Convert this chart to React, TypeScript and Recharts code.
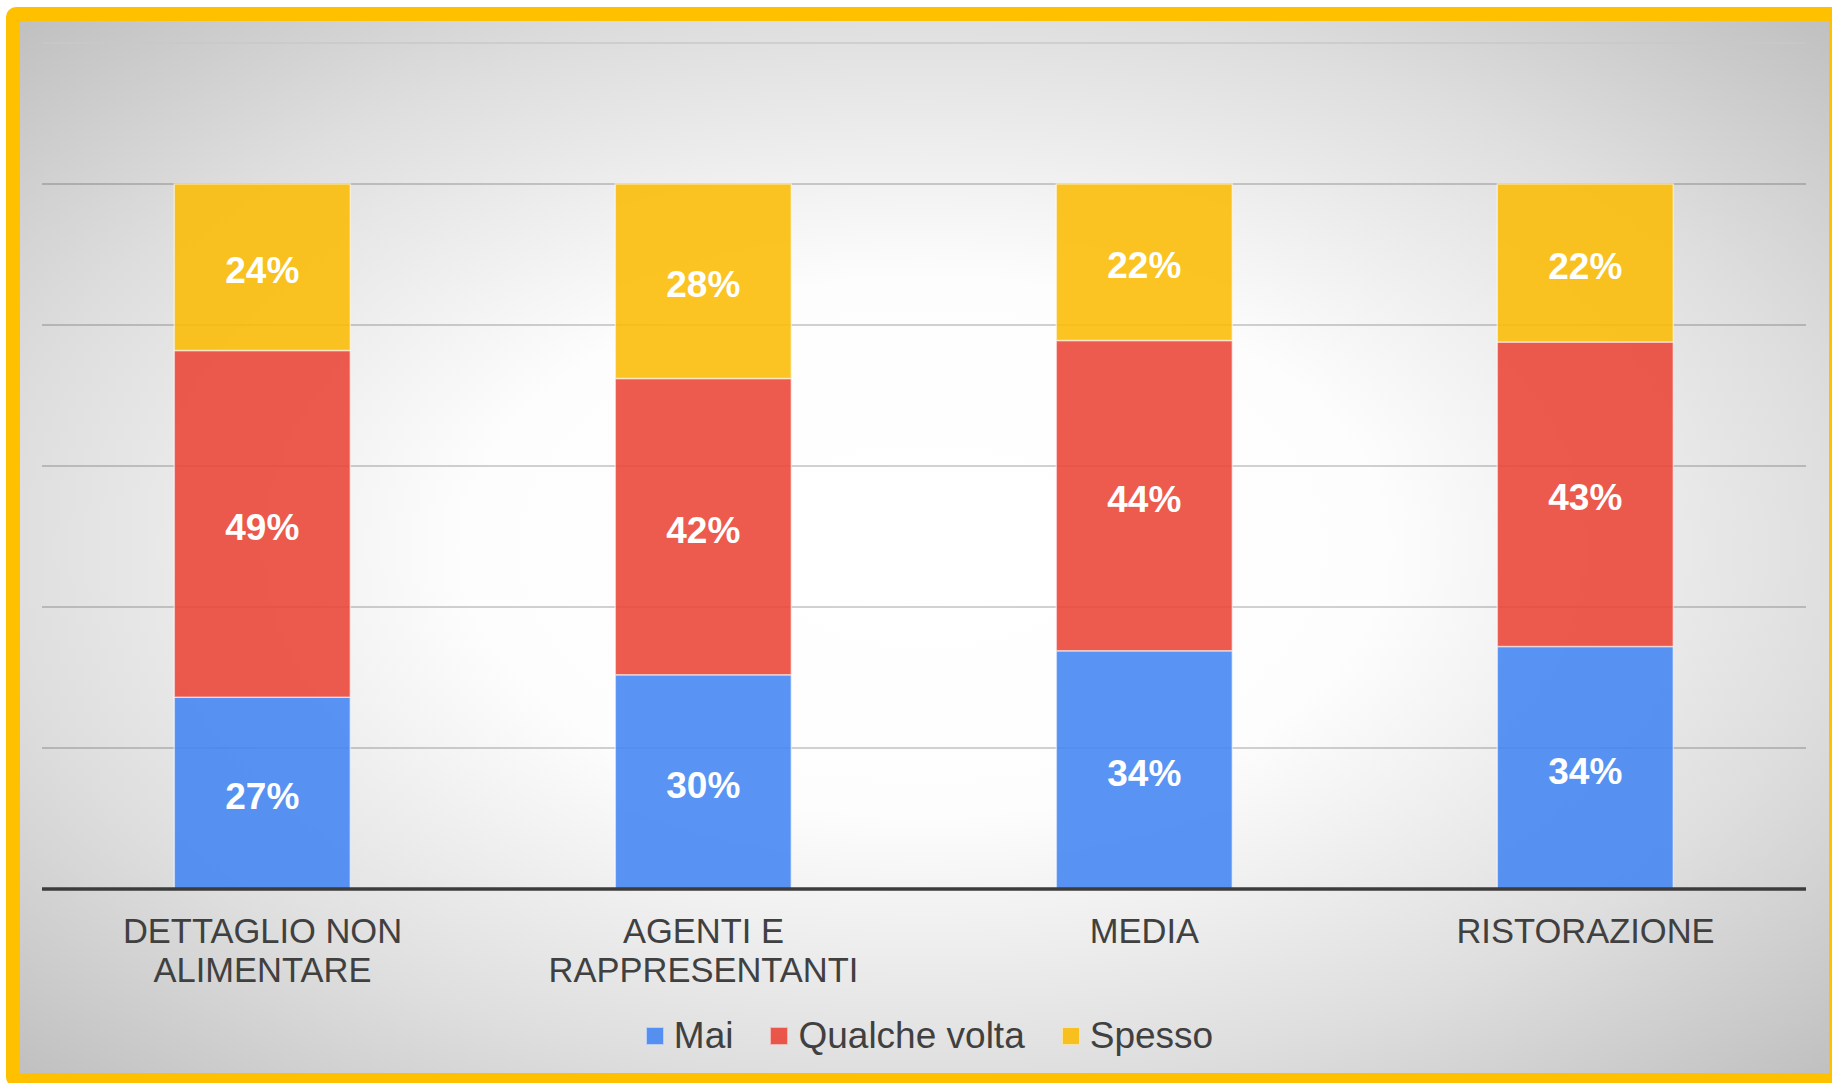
import React from "react";
import { BarChart, Bar, XAxis, YAxis, CartesianGrid, Legend, LabelList, ReferenceLine } from "recharts";

const categories = ["DETTAGLIO NON\nALIMENTARE", "AGENTI E\nRAPPRESENTANTI", "MEDIA", "RISTORAZIONE"];
const maiValues = [27.2, 30.4, 33.8, 34.4];
const qualcheValues = [49.2, 42.0, 44.0, 43.2];
const spessoValues = [23.6, 27.6, 22.2, 22.4];
const seriesNames = ["Mai", "Qualche volta", "Spesso"];
const seriesColors = ["#4285F4", "#EA4335", "#FBBC05"];
const yTicks = [0, 20, 40, 60, 80, 100];
const yMax = 120;

const data = categories.map((c, i) => ({
  category: c,
  mai: maiValues[i],
  qualche: qualcheValues[i],
  spesso: spessoValues[i],
}));

const FONT = "'Liberation Sans', Arial, sans-serif";

const CategoryTick = (props: any) => {
  const { x, y, payload } = props;
  const lines = String(payload.value).split("\n");
  return (
    <g>
      <text x={x} y={y} textAnchor="middle" fill="#404040" fontSize={34.5} fontFamily={FONT}>
        {lines.map((l, i) => (
          <tspan key={i} x={x} dy={i === 0 ? 54 : 39}>
            {l}
          </tspan>
        ))}
      </text>
    </g>
  );
};

const LegendContent = () => (
  <div
    style={{
      height: 50,
      display: "flex",
      justifyContent: "center",
      alignItems: "center",
      paddingLeft: 11,
      fontFamily: FONT,
      fontSize: 37,
      color: "#404040",
    }}
  >
    {seriesNames.map((n, i) => (
      <div key={n} style={{ display: "flex", alignItems: "center", marginLeft: i === 0 ? 0 : 37 }}>
        <div
          style={{
            width: 18,
            height: 18,
            background: seriesColors[i],
            opacity: 0.88,
            boxSizing: "border-box",
            border: "1px solid rgba(255,255,255,0.6)",
            marginRight: 10,
          }}
        />
        <span style={{ lineHeight: "50px", whiteSpace: "nowrap" }}>{n}</span>
      </div>
    ))}
  </div>
);

const fmt = (v: any) => `${Math.round(Number(v))}%`;

const labelStyle = { fill: "#ffffff", fontSize: 37, fontWeight: 700, fontFamily: FONT };

export default function App() {
  return (
    <div style={{ position: "fixed", left: 0, top: 0, width: 1832, height: 1083, overflow: "hidden", background: "#fff" }}>
      <div
        style={{
          position: "absolute",
          left: 6,
          top: 7,
          width: 1837,
          height: 1080,
          boxSizing: "border-box",
          padding: 14,
          background: "#FFC000",
          borderRadius: 10,
        }}
      >
        <div
          style={{
            width: 1809,
            height: 1052,
            background:
              "radial-gradient(ellipse farthest-corner at 50% 50%, #ffffff 0%, #fdfdfd 36%, #dedede 72%, #c0c0c0 100%)",
          }}
        >
          <BarChart
            width={1809}
            height={1052}
            data={data}
            margin={{ top: 22, right: 23, left: 22, bottom: 12 }}
            barCategoryGap="30%"
          >
            <CartesianGrid
              vertical={false}
              horizontalValues={yTicks}
              stroke="#000000"
              strokeOpacity={0.24}
              strokeWidth={1.5}
            />
            <ReferenceLine y={yMax} stroke="#c9c9c9" strokeWidth={1.5} />
            <YAxis hide domain={[0, yMax]} ticks={yTicks} />
            <XAxis
              dataKey="category"
              height={122}
              tickLine={false}
              tickSize={0}
              tickMargin={0}
              interval={0}
              axisLine={{ stroke: "#3c3c3c", strokeWidth: 3.5 }}
              tick={<CategoryTick />}
            />
            <Legend verticalAlign="bottom" height={50} content={<LegendContent />} />
            <Bar dataKey="mai" name={seriesNames[0]} stackId="a" fill={seriesColors[0]} fillOpacity={0.88} stroke="#ffffff" strokeOpacity={0.55} strokeWidth={1.5} isAnimationActive={false}>
              <LabelList dataKey="mai" position="center" formatter={fmt} style={labelStyle} dy={3} />
            </Bar>
            <Bar dataKey="qualche" name={seriesNames[1]} stackId="a" fill={seriesColors[1]} fillOpacity={0.88} stroke="#ffffff" strokeOpacity={0.55} strokeWidth={1.5} isAnimationActive={false}>
              <LabelList dataKey="qualche" position="center" formatter={fmt} style={labelStyle} dy={3} />
            </Bar>
            <Bar dataKey="spesso" name={seriesNames[2]} stackId="a" fill={seriesColors[2]} fillOpacity={0.88} stroke="#ffffff" strokeOpacity={0.55} strokeWidth={1.5} isAnimationActive={false}>
              <LabelList dataKey="spesso" position="center" formatter={fmt} style={labelStyle} dy={3} />
            </Bar>
          </BarChart>
        </div>
      </div>
    </div>
  );
}
